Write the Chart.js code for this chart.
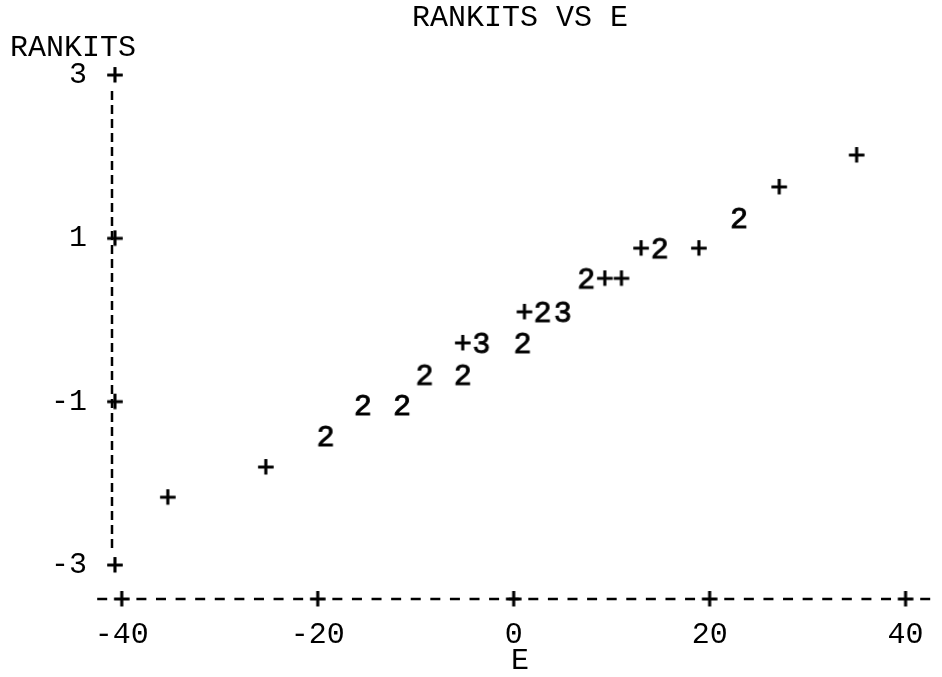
<!DOCTYPE html>
<html>
<head>
<meta charset="utf-8">
<title>RANKITS VS E</title>
<script src="https://cdn.jsdelivr.net/npm/chart.js@4.4.1/dist/chart.umd.min.js"></script>
<style>
  html, body { margin: 0; padding: 0; background: #fff; }
  #wrap { width: 942px; height: 677px; position: relative; }
</style>
</head>
<body>
<div id="wrap"><canvas id="plot"></canvas></div>
<script>
// Giá trị đọc từ biểu đồ ký tự: mỗi vị trí in một ký hiệu ('+' = 1 điểm, số = số điểm trùng)
const eValues = [-35.3, -25.3, -19.2, -15.4, -11.4, -9.1, -5.2, -5.2, -3.3, 0.9,
                 1.1, 2.95, 5.0, 7.4, 9.3, 11.0, 13.0, 14.9, 18.9, 23.0, 27.1, 35.0];
const rankits = [-2.17, -1.80, -1.42, -1.04, -1.04, -0.67, -0.67, -0.28, -0.28, -0.28,
                 0.10, 0.10, 0.10, 0.51, 0.51, 0.51, 0.88, 0.88, 0.88, 1.25, 1.63, 2.02];
const symbols = ['+', '+', '2', '2', '2', '2', '2', '+', '3', '2',
                 '+', '2', '3', '2', '+', '+', '+', '2', '+', '2', '+', '+'];

const xTicks = [-40, -20, 0, 20, 40];
const yTicks = [-3, -1, 1, 3];

const FONT = '"Liberation Mono", "DejaVu Sans Mono", monospace';
const textFont = { family: FONT, size: 30, weight: 'normal', lineHeight: 1 };

// Tạo ảnh ký tự để dùng làm pointStyle (nét hơi đậm như máy in kim)
function makeGlyph(ch) {
    const c = document.createElement('canvas');
    c.width = 30;
    c.height = 34;
    const g = c.getContext('2d');
    g.font = '30px ' + FONT;
    g.fillStyle = '#000';
    g.strokeStyle = '#000';
    g.lineWidth = 0.9;
    g.textAlign = 'center';
    g.textBaseline = 'alphabetic';
    g.fillText(ch, 15, 27);
    g.strokeText(ch, 15, 27);
    return c;
}

const glyphs = { '+': makeGlyph('+') };
symbols.forEach(s => { if (!glyphs[s]) glyphs[s] = makeGlyph(s); });

// Trục kiểu máy đánh chữ: dấu '+' tại các vạch chia, trục là các gạch ngang/đứng
const charAxes = {
    id: 'charAxes',
    afterDraw(chart) {
        const ctx = chart.ctx;
        const area = chart.chartArea;
        const x = chart.scales.x;
        const y = chart.scales.y;
        const plus = glyphs['+'];
        const step = x.getPixelForValue(2) - x.getPixelForValue(0); // một cột ký tự
        ctx.save();
        ctx.strokeStyle = '#000';
        ctx.lineWidth = 2.5;

        // trục đứng
        ctx.setLineDash([9, 5]);
        ctx.beginPath();
        ctx.moveTo(area.left, y.getPixelForValue(yTicks[yTicks.length - 1]) + 16);
        ctx.lineTo(area.left, y.getPixelForValue(yTicks[0]) - 12);
        ctx.stroke();

        // trục ngang: gạch giữa các cột ký tự
        const x0 = x.getPixelForValue(xTicks[0]);
        ctx.setLineDash([]);
        ctx.beginPath();
        for (let px = x0 - step; px <= area.right; px += step) {
            if (Math.abs(((px - x0) / step) % 10) < 0.01) continue;
            ctx.moveTo(px - 5, area.bottom);
            ctx.lineTo(px + 5, area.bottom);
        }
        ctx.stroke();

        xTicks.forEach(v => {
            ctx.drawImage(plus, x.getPixelForValue(v) - plus.width / 2, area.bottom - plus.height / 2);
        });
        yTicks.forEach(v => {
            ctx.drawImage(plus, area.left + 3 - plus.width / 2, y.getPixelForValue(v) - plus.height / 2);
        });
        ctx.restore();
    }
};

new Chart(document.getElementById('plot'), {
    type: 'scatter',
    data: {
        datasets: [{
            data: eValues.map((e, i) => ({ x: e, y: rankits[i] })),
            pointStyle: symbols.map(s => glyphs[s]),
            pointRadius: 10,
            pointHoverRadius: 10
        }]
    },
    options: {
        responsive: true,
        maintainAspectRatio: false,
        animation: false,
        events: [],
        layout: { padding: { left: 10, right: 12, top: 0, bottom: 0 } },
        plugins: {
            legend: { display: false },
            tooltip: { enabled: false },
            title: {
                display: true,
                text: 'RANKITS VS E',
                fullSize: false,
                color: '#000',
                font: textFont,
                padding: { top: 3, bottom: 0 }
            },
            subtitle: {
                display: true,
                text: 'RANKITS',
                align: 'start',
                color: '#000',
                font: textFont,
                padding: 0
            }
        },
        scales: {
            x: {
                type: 'linear',
                min: -41,
                max: 42.3,
                afterBuildTicks: s => { s.ticks = xTicks.map(v => ({ value: v })); },
                afterFit: s => { s.height = 78; },
                grid: { display: false, drawTicks: false },
                border: { display: false },
                ticks: {
                    color: '#000',
                    font: { family: FONT, size: 30 },
                    padding: 18,
                    autoSkip: false,
                    maxRotation: 0
                },
                title: {
                    display: true,
                    text: 'E',
                    color: '#000',
                    font: textFont,
                    padding: { top: 0, bottom: 1 }
                }
            },
            y: {
                type: 'linear',
                min: -3.416,
                max: 3.147,
                afterBuildTicks: s => { s.ticks = yTicks.map(v => ({ value: v })); },
                afterFit: s => { s.width = 102; },
                grid: { display: false, drawTicks: false },
                border: { display: false },
                ticks: {
                    color: '#000',
                    font: { family: FONT, size: 30 },
                    padding: 25
                }
            }
        }
    },
    plugins: [charAxes]
});
</script>
</body>
</html>
